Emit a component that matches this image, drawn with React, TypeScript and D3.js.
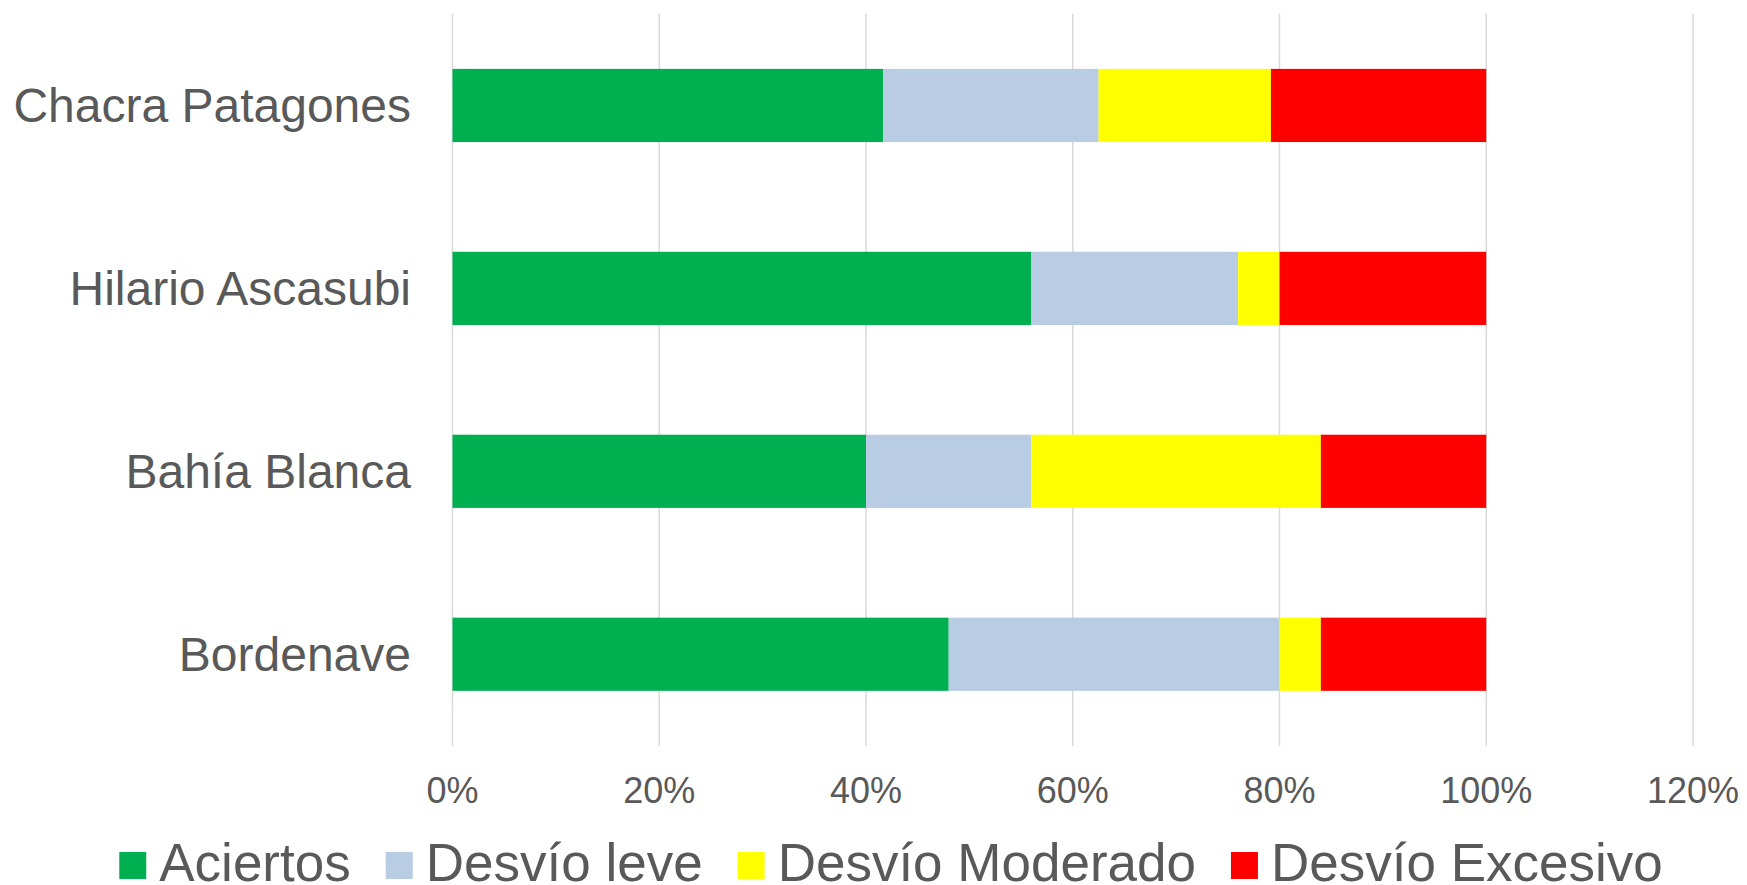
import * as d3 from "d3";
import { useEffect, useRef } from "react";

const categories = ["Chacra Patagones", "Hilario Ascasubi", "Bahía Blanca", "Bordenave"];
const seriesNames = ["Aciertos", "Desvío leve", "Desvío Moderado", "Desvío Excesivo"];
const seriesColors = ["#00B050", "#B8CCE4", "#FFFF00", "#FF0000"];
const aciertos = [0.4167, 0.56, 0.4, 0.48];
const desvioLeve = [0.2083, 0.2, 0.16, 0.32];
const desvioModerado = [0.1667, 0.04, 0.28, 0.04];
const desvioExcesivo = [0.2083, 0.2, 0.16, 0.16];
const xTicks = [0, 0.2, 0.4, 0.6, 0.8, 1, 1.2];

export default function App() {
    const svgRef = useRef<SVGSVGElement | null>(null);

    useEffect(() => {
        if (!svgRef.current) return;
        const svg = d3.select(svgRef.current);
        svg.selectAll("*").remove();

        const totalW = 1747;
        const totalH = 885;
        const font = "'Liberation Sans', Arial, sans-serif";
        const textColor = "#595959";

        const x = d3.scaleLinear().domain([0, 1.2]).range([452.5, 1693]);
        const y = d3
            .scaleBand<string>()
            .domain(categories)
            .range([14, 745.7])
            .paddingInner(0.6)
            .paddingOuter(0.3);

        // gridlines
        svg.append("g")
            .selectAll("line")
            .data(xTicks)
            .join("line")
            .attr("x1", (d) => x(d))
            .attr("x2", (d) => x(d))
            .attr("y1", 14)
            .attr("y2", 745.7)
            .attr("stroke", "#D9D9D9")
            .attr("stroke-width", 1.5);

        const rows = categories.map((c, i) => ({
            cat: c,
            s0: aciertos[i],
            s1: desvioLeve[i],
            s2: desvioModerado[i],
            s3: desvioExcesivo[i],
        }));
        const stack = d3.stack<any>().keys(["s0", "s1", "s2", "s3"]);
        const layers = stack(rows);

        svg.append("g")
            .selectAll("g")
            .data(layers)
            .join("g")
            .attr("fill", (d, i) => seriesColors[i])
            .selectAll("rect")
            .data((d) => d)
            .join("rect")
            .attr("x", (d) => x(d[0]))
            .attr("width", (d) => x(d[1]) - x(d[0]))
            .attr("y", (d) => y(d.data.cat)!)
            .attr("height", y.bandwidth());

        // category labels
        svg.append("g")
            .selectAll("text")
            .data(categories)
            .join("text")
            .attr("x", 411)
            .attr("y", (d) => y(d)! + y.bandwidth() / 2)
            .attr("dy", "0.345em")
            .attr("text-anchor", "end")
            .attr("font-family", font)
            .attr("font-size", 48)
            .attr("fill", textColor)
            .text((d) => d);

        // x tick labels
        svg.append("g")
            .selectAll("text")
            .data(xTicks)
            .join("text")
            .attr("x", (d) => x(d))
            .attr("y", 802.5)
            .attr("text-anchor", "middle")
            .attr("font-family", font)
            .attr("font-size", 36)
            .attr("fill", textColor)
            .text((d) => d3.format(".0%")(d));

        // legend
        const sq = 27;
        const gapSqText = 13;
        const gapItems = 35;
        const legend = svg.append("g");
        const items = legend
            .selectAll("g")
            .data(seriesNames)
            .join("g");
        items.append("rect")
            .attr("width", sq)
            .attr("height", sq)
            .attr("y", 852)
            .attr("fill", (d, i) => seriesColors[i]);
        items.append("text")
            .attr("x", sq + gapSqText)
            .attr("y", 880.5)
            .attr("font-family", font)
            .attr("font-size", 53)
            .attr("fill", textColor)
            .text((d) => d);

        const widths: number[] = [];
        items.each(function () {
            const t = d3.select(this).select("text").node() as SVGTextElement;
            widths.push(sq + gapSqText + t.getComputedTextLength());
        });
        const total = d3.sum(widths) + gapItems * (widths.length - 1);
        let cx = 891 - total / 2;
        items.attr("transform", (d, i) => {
            const tx = cx;
            cx += widths[i] + gapItems;
            return `translate(${tx},0)`;
        });

        svg.attr("width", totalW).attr("height", totalH);
    }, []);

    return (
        <svg
            ref={svgRef}
            width={1747}
            height={885}
            style={{ position: "absolute", left: 0, top: 0, background: "#fff" }}
        />
    );
}
